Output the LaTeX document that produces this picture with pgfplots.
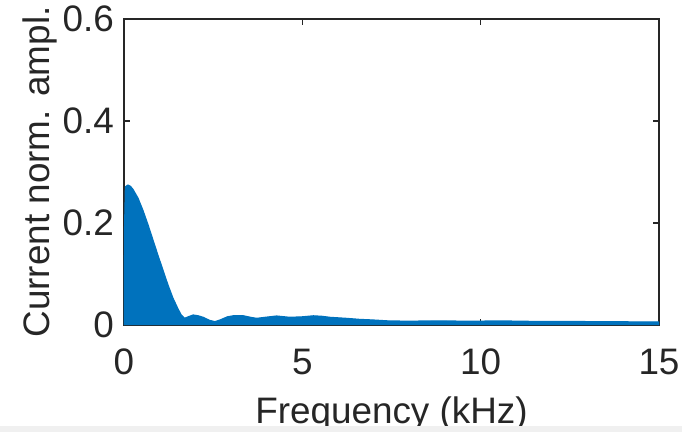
\documentclass[border=0pt]{standalone}
\usepackage{fontspec}
\setmainfont{Liberation Sans}
\usepackage{pgfplots}
\pgfplotsset{compat=1.18}
\definecolor{mblue}{RGB}{0,114,189}
\definecolor{axgray}{RGB}{38,38,38}

\begin{document}
\begin{tikzpicture}
\path[use as bounding box] (-124bp,-107bp) rectangle (558bp,325bp);
\clip (-124bp,-107bp) rectangle (558bp,325bp);
\begin{axis}[
  at={(0,0)}, anchor=south west,
  scale only axis, width=535bp, height=306bp,
  xmin=0, xmax=15, ymin=0, ymax=0.6,
  xtick={0,5,10,15}, ytick={0,0.2,0.4,0.6},
  axis line style={axgray, line width=1.1bp},
  major tick style={axgray, line width=1.1bp},
  major tick length=6bp,
  tick align=inside,
  font=\fontsize{37}{40}\selectfont,
  /pgf/number format/assume math mode=true,
  yticklabel style={/pgf/number format/fixed, inner sep=0pt, anchor=east, xshift=-10bp},
  xticklabel style={inner sep=0pt, anchor=north, yshift=-24bp},
  ticklabel style={text=axgray},
  xlabel={Frequency (kHz)},
  ylabel={Current norm. ampl.},
  xlabel style={at={(axis description cs:0.5,-0.3235)}, anchor=base, inner sep=0pt, text=axgray},
  ylabel style={at={(axis description cs:-0.140,0.5)}, anchor=base, inner sep=0pt, text=axgray},
]
% normalised current spectrum (frequency in kHz, amplitude)
\addplot[draw=mblue, fill=mblue, line width=1.2bp, line join=round] table {
x y
0 0
0 0.137
0.04 0.271
0.11 0.2745
0.18 0.272
0.25 0.266
0.39 0.249
0.53 0.225
0.67 0.197
0.81 0.167
0.95 0.137
1.09 0.108
1.23 0.079
1.37 0.053
1.51 0.032
1.60 0.020
1.70 0.013
1.80 0.016
1.94 0.0196
2.08 0.018
2.22 0.015
2.40 0.009
2.55 0.0065
2.70 0.010
2.90 0.016
3.06 0.018
3.35 0.018
3.55 0.015
3.72 0.013
3.95 0.015
4.28 0.0176
4.65 0.015
5.00 0.016
5.31 0.018
5.55 0.017
5.78 0.015
6.24 0.013
6.60 0.011
6.98 0.0098
7.46 0.0078
8.00 0.0075
8.86 0.008
9.50 0.0075
10.73 0.0078
11.50 0.007
12.50 0.0068
13.50 0.0065
14.50 0.006
15 0.006
15 0
};
\end{axis}
\fill[black!6] (-124bp,-101bp) rectangle (558bp,-107bp);
\end{tikzpicture}
\end{document}
